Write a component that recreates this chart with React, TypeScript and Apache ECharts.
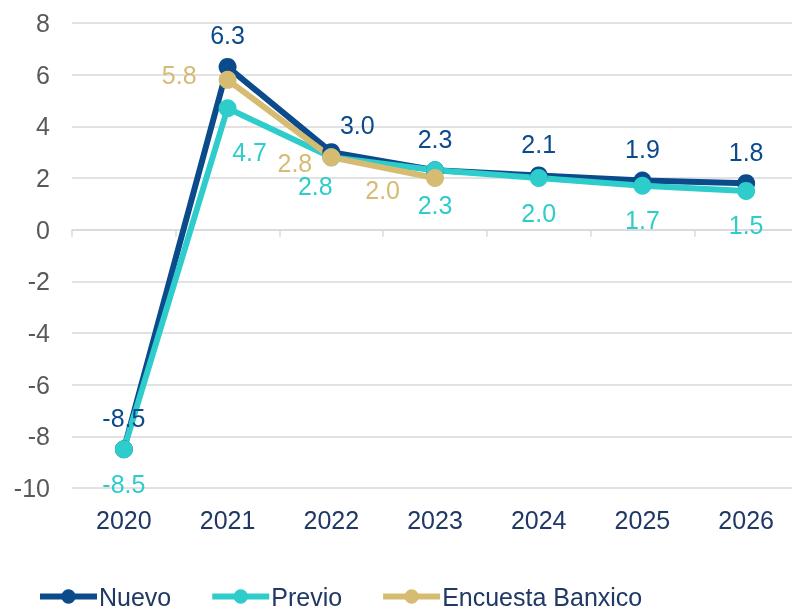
import React, { useEffect, useRef } from "react";
import * as echarts from "echarts";

const years = ["2020", "2021", "2022", "2023", "2024", "2025", "2026"];
const nuevo = [-8.5, 6.3, 3.0, 2.3, 2.1, 1.9, 1.8];
const previo = [-8.5, 4.7, 2.8, 2.3, 2.0, 1.7, 1.5];
const encuesta: (number | null)[] = [null, 5.8, 2.8, 2.0, null, null, null];
const seriesNames = ["Nuevo", "Previo", "Encuesta Banxico"];
const yMin = -10;
const yMax = 8;
const yStep = 2;

const C_NUEVO = "#0B4A8B";
const C_PREVIO = "#2ECDCB";
const C_ENC = "#D6BB72";
const FONT = "Liberation Sans, Arial, sans-serif";
const FS = 25;

function build(
  values: (number | null)[],
  offsets: Record<number, [number, number]>
) {
  return values.map((v, i) =>
    offsets[i] ? { value: v, label: { offset: offsets[i] } } : { value: v }
  );
}

export default function App() {
  const ref = useRef<HTMLDivElement>(null);
  useEffect(() => {
    if (!ref.current) return;
    const chart = echarts.init(ref.current, undefined, { renderer: "svg" });
    const fmt = (p: any) =>
      p.value == null ? "" : Number(p.value).toFixed(1);
    const lineSeries = (
      name: string,
      color: string,
      data: any[],
      position: string,
      distance: number
    ) => ({
      name,
      type: "line",
      data,
      symbol: "circle",
      symbolSize: 18,
      connectNulls: false,
      lineStyle: { color, width: 6 },
      itemStyle: { color },
      label: {
        show: true,
        position,
        distance,
        formatter: fmt,
        color,
        fontSize: FS,
        fontFamily: FONT,
      },
      z: 2,
    });
    chart.setOption({
      animation: false,
      grid: {
        left: 72,
        right: -6,
        top: 23,
        bottom: 122,
        containLabel: false,
        outerBoundsMode: "none",
      },
      legend: {
        bottom: -4,
        left: 32,
        itemWidth: 57,
        itemHeight: 18,
        itemGap: 38,
        lineStyle: { width: 6 },
        textStyle: {
          color: "#1F3864",
          fontSize: 25,
          fontFamily: FONT,
          padding: [0, 0, 0, -3],
        },
        data: seriesNames,
      },
      xAxis: [
        {
          type: "category",
          data: years,
          boundaryGap: true,
          position: "bottom",
          axisLine: { show: false, onZero: false },
          axisTick: { show: false },
          axisLabel: {
            color: "#1F3864",
            fontSize: FS,
            fontFamily: FONT,
            margin: 19,
          },
        },
        {
          type: "category",
          data: years,
          boundaryGap: true,
          position: "bottom",
          axisLine: { show: true, onZero: true, lineStyle: { color: "#D9D9D9", width: 1.5 } },
          axisTick: { show: true, length: 7, lineStyle: { color: "#D9D9D9", width: 1.5 } },
          axisLabel: { show: false },
        },
      ],
      yAxis: {
        type: "value",
        min: yMin,
        max: yMax,
        interval: yStep,
        axisLine: { show: false },
        axisTick: { show: false },
        splitLine: { lineStyle: { color: "#D9D9D9", width: 1.5 } },
        axisLabel: {
          color: "#595959",
          fontSize: FS,
          fontFamily: FONT,
          margin: 22,
        },
      },
      series: [
        lineSeries(seriesNames[0], C_NUEVO, build(nuevo, { 2: [26, 4] }), "top", 10),
        lineSeries(seriesNames[1], C_PREVIO, build(previo, { 1: [22, 9], 2: [-16, -6] }), "bottom", 13),
        lineSeries(seriesNames[2], C_ENC, build(encuesta, { 1: [0, -5], 2: [12, 6], 3: [-4, 12] }), "left", 22),
      ],
    });
    return () => chart.dispose();
  }, []);
  return (
    <div
      ref={ref}
      style={{ position: "fixed", left: 0, top: 0, width: 792, height: 610 }}
    />
  );
}
